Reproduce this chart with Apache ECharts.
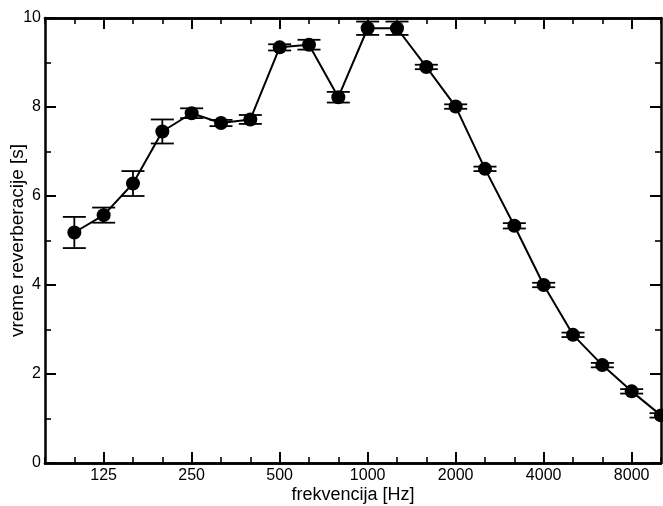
<!DOCTYPE html>
<html>
<head>
<meta charset="utf-8">
<script src="https://cdn.jsdelivr.net/npm/echarts@6/dist/echarts.min.js"></script>
<style>
html,body{margin:0;padding:0;background:#fff;}
#c{width:663px;height:506px;}
</style>
</head>
<body>
<div id="c"></div>
<script>
// Third-octave band centres spanning the axis (80 Hz .. 10 kHz)
const bands = [80,100,125,160,200,250,315,400,500,630,800,1000,1250,1600,2000,2500,3150,4000,5000,6300,8000,10000];
// Labelled octave frequencies
const tickLabels = ['125','250','500','1000','2000','4000','8000'];
// Measured frequencies
const freqs = [100,125,160,200,250,315,400,500,630,800,1000,1250,1600,2000,2500,3150,4000,5000,6300,8000,10000];
// Reverberation time [s]
const rt = [5.18,5.57,6.28,7.45,7.86,7.64,7.72,9.34,9.40,8.22,9.77,9.77,8.90,8.01,6.61,5.33,4.00,2.88,2.20,1.61,1.07];
// Error (half-length of error bar) [s]
const err = [0.35,0.17,0.28,0.27,0.11,0.07,0.10,0.07,0.11,0.12,0.15,0.15,0.05,0.05,0.05,0.06,0.05,0.05,0.05,0.05,0.05];

const xIdx = f => bands.indexOf(f);
const majorIdx = tickLabels.map(t => bands.indexOf(Number(t)));
const allIdx = bands.map((b,i)=>i);

const lineData = freqs.map((f,i)=>[xIdx(f), rt[i]]);
const errData = freqs.map((f,i)=>[xIdx(f), rt[i]-err[i], rt[i]+err[i]]);

const font = 'Liberation Sans, Arial, sans-serif';
const chart = echarts.init(document.getElementById('c'), null, {renderer:'canvas'});

function xAx(pos, major, labels, name){
  return {
    type:'value', position:pos, min:0, max:bands.length-1, interval:1,
    axisLine:{show:true, onZero:false, lineStyle:{color:'#000', width:2.5}},
    axisTick:{show:true, inside:true, length: major?11:6, lineStyle:{color:'#000', width:major?2:1.6},
      customValues: major ? majorIdx : allIdx},
    axisLabel:{show:labels, color:'#000', fontSize:16, fontFamily:font, margin:5,
      customValues: majorIdx,
      formatter: v => { const k = majorIdx.indexOf(Math.round(v)); return k>=0 ? tickLabels[k] : ''; }},
    splitLine:{show:false},
    name: name || '', nameLocation:'middle', nameGap:23, nameMoveOverlap:false,
    nameTextStyle:{color:'#000', fontSize:18, fontFamily:font}
  };
}
function yAx(pos, labels, name){
  return {
    type:'value', position:pos, min:0, max:10, interval:2,
    axisLine:{show:true, onZero:false, lineStyle:{color:'#000', width:2.5}},
    axisTick:{show:true, inside:true, length:11, lineStyle:{color:'#000', width:2}},
    minorTick:{show:true, splitNumber:2, length:6, lineStyle:{color:'#000', width:1.6}},
    axisLabel:{show:labels, color:'#000', fontSize:16, fontFamily:font, margin:4},
    splitLine:{show:false}, minorSplitLine:{show:false},
    name: name || '', nameLocation:'middle', nameGap:18, nameMoveOverlap:false,
    nameTextStyle:{color:'#000', fontSize:19, fontFamily:font}
  };
}

chart.setOption({
  animation:false,
  backgroundColor:'#fff',
  grid:{left:45, right:2, top:18, height:445, containLabel:false, outerBoundsMode:'none'},
  xAxis:[
    xAx('bottom', false, false, 'frekvencija [Hz]'),
    xAx('bottom', true, true),
    xAx('top', false, false),
    xAx('top', true, false)
  ],
  yAxis:[
    yAx('left', true, 'vreme reverberacije [s]'),
    yAx('right', false)
  ],
  series:[
    {
      type:'custom', xAxisIndex:0, yAxisIndex:0, z:2, clip:false,
      data: errData,
      renderItem:(params, api)=>{
        const lo = api.coord([api.value(0), api.value(1)]);
        const hi = api.coord([api.value(0), api.value(2)]);
        const w = 11.5;
        const st = {stroke:'#000', lineWidth:1.8};
        return {type:'group', children:[
          {type:'line', shape:{x1:lo[0], y1:lo[1], x2:hi[0], y2:hi[1]}, style:st},
          {type:'line', shape:{x1:lo[0]-w, y1:lo[1], x2:lo[0]+w, y2:lo[1]}, style:st},
          {type:'line', shape:{x1:hi[0]-w, y1:hi[1], x2:hi[0]+w, y2:hi[1]}, style:st}
        ]};
      }
    },
    {
      type:'line', xAxisIndex:0, yAxisIndex:0, z:3, clip:false,
      data: lineData,
      symbol:'circle', symbolSize:14, showSymbol:true,
      lineStyle:{color:'#000', width:2},
      itemStyle:{color:'#000'}
    }
  ]
});
</script>
</body>
</html>
